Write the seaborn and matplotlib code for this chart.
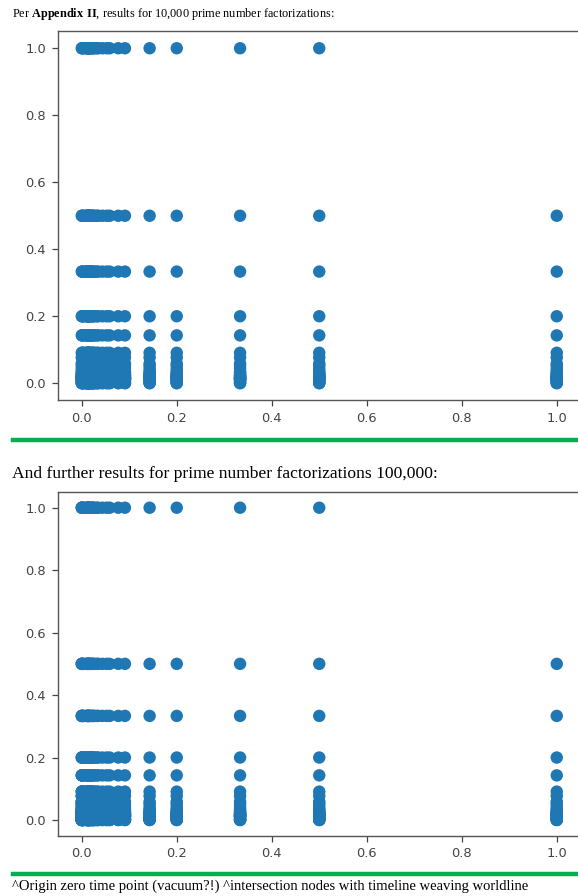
import matplotlib
matplotlib.use("Agg")
import matplotlib.pyplot as plt
import seaborn as sns
import pandas as pd
from matplotlib.lines import Line2D

# reciprocal factor values seen on both axes (1/1, 1/2, 1/3, 1/5, ... down to ~0)
levels_10k = [1.0, 0.5, 0.3333, 0.2, 0.1429, 0.0909, 0.0769, 0.0588, 0.0526,
              0.0435, 0.0345, 0.0323, 0.0270, 0.0244, 0.0233, 0.0213, 0.0189,
              0.0169, 0.0164, 0.0149, 0.0141, 0.0137, 0.0127, 0.0120, 0.0112,
              0.0103, 0.0050, 0.0020, 0.0010, 0.0]
levels_100k = [1.0, 0.5, 0.3333, 0.2, 0.1429, 0.0909, 0.0769, 0.0588, 0.0526,
               0.0435, 0.0345, 0.0323, 0.0270, 0.0244, 0.0233, 0.0213, 0.0189,
               0.0169, 0.0164, 0.0149, 0.0141, 0.0137, 0.0127, 0.0120, 0.0112,
               0.0103, 0.0050, 0.0020, 0.0010, 0.0005, 0.0001, 0.0]
ticks = [0.0, 0.2, 0.4, 0.6, 0.8, 1.0]

title_top = "Per $\\bf{Appendix\\ II}$, results for 10,000 prime number factorizations:"
title_mid = "And further results for prime number factorizations 100,000:"
caption = "^Origin zero time point (vacuum?!) ^intersection nodes with timeline weaving worldline"


def pairs(levels):
    # every combination of the two factor levels, except the (1, 1) corner
    rows = [(a, b) for a in levels for b in levels if not (a == 1.0 and b == 1.0)]
    return pd.DataFrame(rows, columns=["x", "y"])


W, H = 578, 896
fig = plt.figure(figsize=(W / 100, H / 100), dpi=100)


def panel(ax, df):
    sns.scatterplot(data=df, x="x", y="y", ax=ax, s=80, color="#1f77b4",
                    edgecolor="none", linewidth=0, legend=False)
    ax.set_xlim(-0.05, 1.05)
    ax.set_ylim(-0.05, 1.05)
    ax.set_xticks(ticks)
    ax.set_yticks(ticks)
    ax.set_xlabel("")
    ax.set_ylabel("")
    ax.tick_params(labelsize=9.4, colors="#444444", length=4.5, width=0.9, pad=4)
    for sp in ax.spines.values():
        sp.set_color("#555555")
        sp.set_linewidth(1.0)


ax1 = fig.add_axes([58 / W, 1 - 400 / H, 522.5 / W, 368.5 / H])
panel(ax1, pairs(levels_10k))
ax2 = fig.add_axes([58 / W, 1 - 835.6 / H, 522.5 / W, 343.5 / H])
panel(ax2, pairs(levels_100k))

serif = ["Liberation Serif", "DejaVu Serif"]
plt.rcParams["mathtext.fontset"] = "custom"
plt.rcParams["mathtext.bf"] = "Liberation Serif:bold"
plt.rcParams["mathtext.rm"] = "Liberation Serif"

fig.text(12 / W, 1 - 17 / H, title_top, family=serif, fontsize=8.8, va="baseline")
fig.text(12 / W, 1 - 478 / H, title_mid, family=serif, fontsize=12.6, va="baseline")
fig.text(12 / W, 1 - 890 / H, caption, family=serif, fontsize=10.5, va="baseline")

for yy in (440, 874):
    fig.add_artist(Line2D([13 / W, 1.0], [1 - yy / H, 1 - yy / H],
                          color="#00b050", linewidth=3.2, transform=fig.transFigure))

fig.savefig("out.png", dpi=100)
